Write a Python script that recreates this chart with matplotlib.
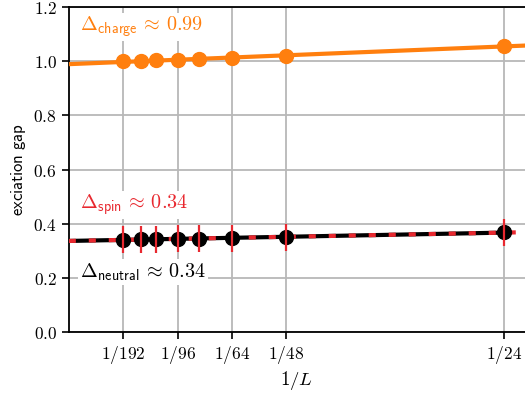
import numpy as np
import matplotlib
matplotlib.use('Agg')
import matplotlib.pyplot as plt
from matplotlib.ticker import FuncFormatter

plt.rcParams['mathtext.fontset'] = 'cm'

# system sizes and gaps
L = np.array([192, 144, 120, 96, 80, 64, 48, 24])
charge = np.array([1.000, 1.002, 1.003, 1.005, 1.007, 1.011, 1.018, 1.057])
spin = np.array([0.341, 0.342, 0.343, 0.344, 0.345, 0.347, 0.350, 0.368])
spin_err = np.array([0.05, 0.05, 0.05, 0.05, 0.05, 0.05, 0.05, 0.05])
neutral = np.array([0.341, 0.342, 0.343, 0.344, 0.345, 0.347, 0.350, 0.368])
tick_L = [192, 96, 64, 48, 24]

orange = '#ff7f0e'
red = '#e8282f'

x = 1.0 / L
xmax = 0.0437

fig = plt.figure(figsize=(5.25, 4.01), dpi=100)
ax = fig.add_axes([0.131, 0.172, 0.869, 0.8105])

# linear fits
pc = np.polyfit(x, charge, 1)
ps = np.polyfit(x, spin, 1)
pn = np.polyfit(x, neutral, 1)
xf = np.array([0, xmax])
xn = np.array([0, 1/24])

ax.plot(xf, np.polyval(pc, xf), color=orange, lw=3, zorder=3)
ax.plot(x, charge, 'o', color=orange, ms=10, zorder=4)

ax.plot(xn, np.polyval(pn, xn), color='black', lw=3, zorder=3)
ax.plot(xf, np.polyval(ps, xf), color=red, lw=3, dashes=(1.7, 3.1), zorder=3.5)
ax.plot(x, neutral, 'o', color='black', ms=10, zorder=4)
ax.errorbar(x, spin, yerr=spin_err, fmt='none', ecolor=red, elinewidth=1.6, zorder=5)

bbox = dict(facecolor='white', edgecolor='none', pad=1.5)
fs = 14.5
ax.text(0.0011, 1.126, r'$\mathsf{\Delta_{charge}}\,\approx\,%.2f$' % pc[1], color=orange,
        fontsize=fs, va='center', ha='left', bbox=bbox, zorder=2.5)
ax.text(0.0011, 0.469, r'$\mathsf{\Delta_{spin}}\,\approx\,%.2f$' % ps[1], color=red,
        fontsize=fs, va='center', ha='left', bbox=bbox, zorder=2.5)
ax.text(0.0011, 0.222, r'$\mathsf{\Delta_{neutral}}\,\approx\,%.2f$' % pn[1], color='black',
        fontsize=fs, va='center', ha='left', bbox=bbox, zorder=2.5)

ax.set_xlim(0, xmax)
ax.set_ylim(0, 1.2)
ax.set_xticks([1.0 / l for l in tick_L])
ax.set_xticklabels([r'$1/%d$' % l for l in tick_L])
ax.set_yticks(np.arange(0, 1.21, 0.2))
ax.yaxis.set_major_formatter(FuncFormatter(lambda v, p: r'$%.1f$' % v))
ax.tick_params(labelsize=12.5, length=5, width=1.2)
ax.grid(True, color='#b8b8b8', lw=1.3, zorder=0)
ax.set_axisbelow(True)
ax.spines['right'].set_visible(False)
for s in ['left', 'bottom', 'top']:
    ax.spines[s].set_linewidth(1.3)

ax.set_xlabel(r'$1/L$', fontsize=13.5, labelpad=2)
ax.set_ylabel(r'$\mathsf{exciation\ gap}$', fontsize=12, labelpad=4)

fig.savefig('out.png', dpi=100)
